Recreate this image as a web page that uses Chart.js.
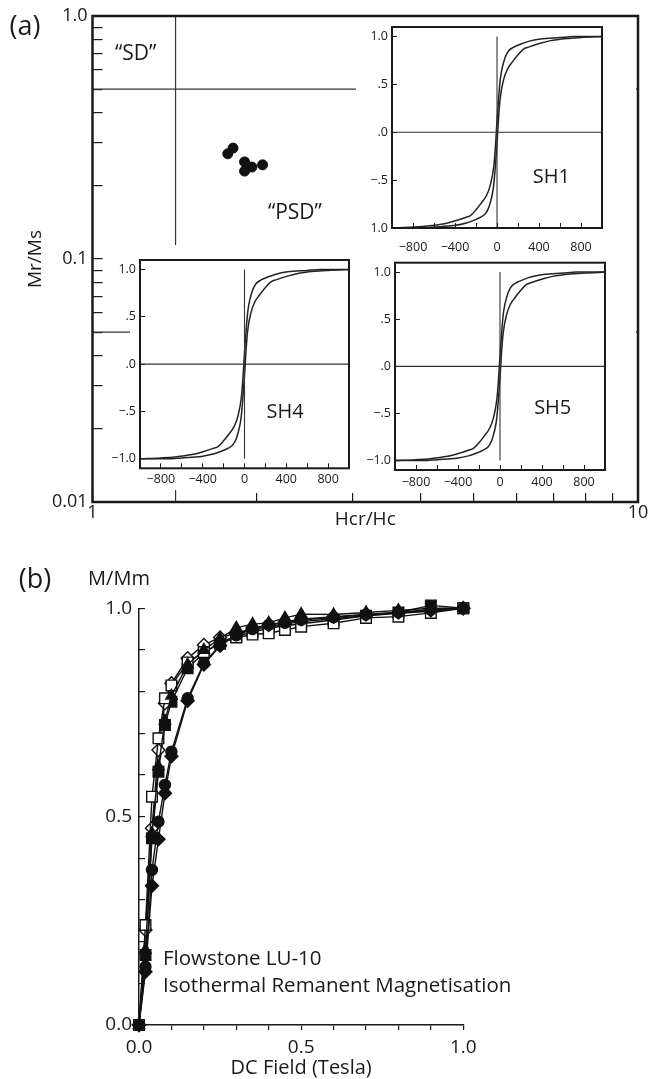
<!DOCTYPE html>
<html><head><meta charset="utf-8">
<script src="https://cdn.jsdelivr.net/npm/chart.js@4/dist/chart.umd.min.js"></script>
<style>
html,body{margin:0;padding:0;background:#fff;}
#wrap{position:relative;width:649px;height:1079px;overflow:hidden;background:#fff;}
canvas{position:absolute;display:block;}
</style></head><body><div id="wrap">
<canvas id="dayPlot" width="649" height="545" style="left:0;top:0;width:649px;height:545px"></canvas>
<canvas id="sh1" width="280" height="238" style="left:356px;top:18px;width:280px;height:238px"></canvas>
<canvas id="sh4" width="255" height="245" style="left:100px;top:245px;width:255px;height:245px"></canvas>
<canvas id="sh5" width="281" height="234" style="left:355px;top:256px;width:281px;height:234px"></canvas>
<canvas id="irm" width="649" height="534" style="left:0;top:545px;width:649px;height:534px"></canvas>
</div>
<script>
// ---------- Panel (a): Day plot data ----------
const hcrHc = [1.81, 1.77, 1.90, 1.96, 1.90, 2.05];
const mrMs  = [0.286, 0.271, 0.251, 0.239, 0.230, 0.244];
const sdLineHcrHc = [1.42, 1.42];
const sdLineMrMs  = [0.01, 1.0];
const boundaryHcrHc = [1, 10];
const sdMrMs = [0.5, 0.5];
const mdMrMs = [0.05, 0.05];
const dayXTicks = [1, 2, 3, 4, 5, 6, 7, 8, 9, 10];
const dayXLabels = {"1": "1", "10": "10"};
const dayYTicks = [0.01, 0.02, 0.03, 0.04, 0.05, 0.06, 0.07, 0.08, 0.09, 0.1, 0.2, 0.3, 0.4, 0.5, 0.6, 0.7, 0.8, 0.9, 1];
const dayYLabels = {"0.01": "0.01", "0.1": "0.1", "1": "1.0"};

// ---------- Hysteresis loops (insets) ----------
const loopUpperField = [-1000, -800, -667, -500, -412, -300, -253, -200, -143, -100, -63, -30, -15, 0, 15, 31, 45, 63, 80, 110, 160, 222, 300, 412, 600, 730, 1000];
const loopUpperM     = [-1.0, -0.99, -0.98, -0.955, -0.93, -0.89, -0.87, -0.81, -0.73, -0.66, -0.55, -0.35, -0.15, 0.12, 0.35, 0.55, 0.65, 0.73, 0.79, 0.85, 0.89, 0.92, 0.95, 0.975, 0.99, 1.0, 1.0];
const loopLowerField = [-1000, -730, -600, -412, -300, -222, -160, -110, -80, -63, -45, -31, -15, 0, 15, 30, 63, 100, 143, 200, 253, 300, 412, 500, 667, 800, 1000];
const loopLowerM     = [-1.0, -1.0, -0.99, -0.975, -0.95, -0.92, -0.89, -0.85, -0.79, -0.73, -0.65, -0.55, -0.35, -0.12, 0.15, 0.35, 0.55, 0.66, 0.73, 0.81, 0.87, 0.89, 0.93, 0.955, 0.98, 0.99, 1.0];
const insetXTicks = [-800, -600, -400, -200, 0, 200, 400, 600, 800];
const insetXLabels = {"-800": "\u2212800", "-400": "\u2212400", "0": "0", "400": "400", "800": "800"};
const insetYTicks = [-1, -0.5, 0, 0.5, 1];
const sh1YLabels = {"-1": "1.0", "-0.5": "\u2212.5", "0": ".0", "0.5": ".5", "1": "1.0"};
const shYLabels  = {"-1": "\u22121.0", "-0.5": "\u2212.5", "0": ".0", "0.5": ".5", "1": "1.0"};
const axisCrossField = [0, 0];
const axisCrossM = [-1, 1];
const axisZeroField = [-1000, 1000];
const axisZeroM = [0, 0];

// ---------- Panel (b): IRM acquisition ----------
const irmField = [0, 0.02, 0.04, 0.06, 0.08, 0.1, 0.15, 0.2, 0.25, 0.3, 0.35, 0.4, 0.45, 0.5, 0.6, 0.7, 0.8, 0.9, 1.0];
const irmOpenSquare   = [0, 0.24, 0.548, 0.688, 0.784, 0.815, 0.87, 0.895, 0.915, 0.93, 0.937, 0.94, 0.948, 0.956, 0.964, 0.977, 0.98, 0.989, 1.0];
const irmOpenDiamond  = [0, 0.228, 0.472, 0.66, 0.772, 0.82, 0.88, 0.912, 0.93, 0.94, 0.95, 0.955, 0.962, 0.968, 0.975, 0.982, 0.988, 0.993, 1.0];
const irmFilledSquare = [0, 0.168, 0.448, 0.608, 0.72, 0.776, 0.856, 0.893, 0.918, 0.933, 0.943, 0.952, 0.958, 0.963, 0.972, 0.982, 0.99, 1.007, 1.0];
const irmFilledCircle = [0, 0.14, 0.372, 0.488, 0.576, 0.656, 0.784, 0.868, 0.912, 0.935, 0.95, 0.96, 0.965, 0.972, 0.978, 0.985, 0.99, 0.997, 1.0];
const irmFilledDiamond= [0, 0.128, 0.334, 0.446, 0.556, 0.645, 0.778, 0.865, 0.91, 0.938, 0.953, 0.96, 0.968, 0.974, 0.98, 0.985, 0.99, 0.995, 1.0];
const irmFilledTriangle=[0, 0.18, 0.46, 0.62, 0.73, 0.79, 0.865, 0.9, 0.928, 0.953, 0.962, 0.965, 0.977, 0.986, 0.985, 0.99, 0.995, 1.0, 1.0];
const irmTicks = [0, 0.1, 0.2, 0.3, 0.4, 0.5, 0.6, 0.7, 0.8, 0.9, 1.0];
const irmLabels = {"0": "0.0", "0.5": "0.5", "1": "1.0"};

// ---------- helpers ----------
const FONT = "'Open Sans', 'Noto Sans', sans-serif";
const INK = '#1a1a1a';
const pts = (xs, ys) => xs.map((x, i) => ({x, y: ys[i]}));
const key = v => String(Math.round(v * 1000) / 1000);
const lab = map => (v) => { const k = key(v); return map[k] !== undefined ? map[k] : ''; };
const setTicks = arr => (scale) => { scale.ticks = arr.map(v => ({value: v})); };
const noPad = s => { s.paddingTop = 0; s.paddingBottom = 0; s.paddingLeft = 0; s.paddingRight = 0; };
const fitH = h => s => { s.height = h; noPad(s); };
const fitW = w => s => { s.width = w; noPad(s); };

function textPlugin(items) {
  return { id: 'texts', afterDraw(chart) {
    const ctx = chart.ctx;
    for (const t of items) {
      const p = t.pos(chart);
      ctx.save();
      ctx.font = t.font;
      ctx.fillStyle = INK;
      ctx.textAlign = t.align || 'center';
      ctx.textBaseline = 'middle';
      ctx.translate(p[0], p[1]);
      if (t.rot) ctx.rotate(t.rot);
      ctx.fillText(t.text, 0, 0);
      ctx.restore();
    }
  }};
}
function framePlugin(width) {
  return { id: 'frame', afterDraw(chart) {
    const a = chart.chartArea, ctx = chart.ctx;
    ctx.save(); ctx.strokeStyle = INK; ctx.lineWidth = width;
    ctx.strokeRect(a.left, a.top, a.right - a.left, a.bottom - a.top);
    ctx.restore();
  }};
}
function whitePlugin(rect) {
  return { id: 'white', beforeDraw(chart) {
    const ctx = chart.ctx; ctx.save(); ctx.fillStyle = '#fff';
    ctx.fillRect(rect[0], rect[1], rect[2], rect[3]); ctx.restore();
  }};
}
const baseOpts = {
  responsive: false, animation: false, events: [],
  plugins: { legend: { display: false }, tooltip: { enabled: false } }
};

// ---------- Day plot ----------
new Chart(document.getElementById('dayPlot'), {
  type: 'scatter',
  data: { datasets: [
    { data: pts(hcrHc, mrMs), pointRadius: 5, pointBackgroundColor: '#111', pointBorderColor: '#111', showLine: false },
    { data: pts(sdLineHcrHc, sdLineMrMs), showLine: true, pointRadius: 0, borderColor: '#333', borderWidth: 1.2 },
    { data: pts(boundaryHcrHc, sdMrMs), showLine: true, pointRadius: 0, borderColor: '#333', borderWidth: 1.2 },
    { data: pts(boundaryHcrHc, mdMrMs), showLine: true, pointRadius: 0, borderColor: '#333', borderWidth: 1.2 }
  ]},
  options: Object.assign({}, baseOpts, {
    layout: { padding: { left: 0, top: 16, right: 11, bottom: 0 } },
    scales: {
      x: { type: 'logarithmic', min: 1, max: 10, afterBuildTicks: setTicks(dayXTicks),
           afterFit: fitH(43),
           border: { display: false },
           grid: { drawOnChartArea: false, drawTicks: true, tickLength: -9, color: INK, lineWidth: 1.2 },
           ticks: { autoSkip: false, maxRotation: 0, padding: 9, color: INK, font: { family: FONT, size: 18 }, callback: lab(dayXLabels) } },
      y: { type: 'logarithmic', min: 0.01, max: 1, afterBuildTicks: setTicks(dayYTicks),
           afterFit: fitW(92.5),
           border: { display: false },
           grid: { drawOnChartArea: false, drawTicks: true, tickLength: -10, color: INK, lineWidth: 1.2 },
           ticks: { autoSkip: false, padding: 15, color: INK, font: { family: FONT, size: 18 }, callback: lab(dayYLabels) } }
    }
  }),
  plugins: [framePlugin(2.5), textPlugin([
    { text: '(a)', font: `27px ${FONT}`, pos: () => [25, 27] },
    { text: 'Mr/Ms', font: `19px ${FONT}`, rot: -Math.PI / 2, pos: c => [36, (c.chartArea.top + c.chartArea.bottom) / 2] },
    { text: 'Hcr/Hc', font: `19px ${FONT}`, pos: c => [(c.chartArea.left + c.chartArea.right) / 2, 520] },
    { text: '\u201CSD\u201D', font: `21px ${FONT}`, pos: c => [c.scales.x.getPixelForValue(1.2), c.scales.y.getPixelForValue(0.70)] },
    { text: '\u201CPSD\u201D', font: `21px ${FONT}`, pos: c => [c.scales.x.getPixelForValue(2.35), c.scales.y.getPixelForValue(0.155)] }
  ])]
});

// ---------- Insets ----------
function makeInset(id, cfg) {
  new Chart(document.getElementById(id), {
    type: 'scatter',
    data: { datasets: [
      { data: pts(axisCrossField, axisCrossM), showLine: true, pointRadius: 0, borderColor: '#333', borderWidth: 1.1 },
      { data: pts(axisZeroField, axisZeroM), showLine: true, pointRadius: 0, borderColor: '#333', borderWidth: 1.1 },
      { data: pts(loopUpperField, loopUpperM), showLine: true, pointRadius: 0, borderColor: '#222', borderWidth: 1.5, cubicInterpolationMode: 'monotone' },
      { data: pts(loopLowerField, loopLowerM), showLine: true, pointRadius: 0, borderColor: '#222', borderWidth: 1.5, cubicInterpolationMode: 'monotone' }
    ]},
    options: Object.assign({}, baseOpts, {
      layout: { padding: { left: 0, top: cfg.padTop, right: cfg.padRight, bottom: 0 } },
      scales: {
        x: { type: 'linear', min: -1000, max: 1000, afterBuildTicks: setTicks(insetXTicks),
             afterFit: fitH(cfg.xH),
             border: { display: false },
             grid: { drawOnChartArea: false, drawTicks: true, tickLength: -5, color: INK, lineWidth: 1 },
             ticks: { autoSkip: false, maxRotation: 0, padding: cfg.xPad, color: INK, font: { family: FONT, size: 12.5 }, callback: lab(insetXLabels) } },
        y: { type: 'linear', min: cfg.yMin, max: cfg.yMax, afterBuildTicks: setTicks(insetYTicks),
             afterFit: fitW(cfg.yW),
             border: { display: false },
             grid: { drawOnChartArea: false, drawTicks: true, tickLength: -5, color: INK, lineWidth: 1 },
             ticks: { autoSkip: false, padding: 9, color: INK, font: { family: FONT, size: 12.5 }, callback: lab(cfg.yLabels) } }
      }
    }),
    plugins: [whitePlugin(cfg.white), framePlugin(2), textPlugin([
      { text: cfg.name, font: `20px ${FONT}`, pos: c => [c.scales.x.getPixelForValue(cfg.nameAt[0]), c.scales.y.getPixelForValue(cfg.nameAt[1])] }
    ])]
  });
}
makeInset('sh1', { padTop: 9, padRight: 34, xH: 28, yW: 36, xPad: 17, yMin: -1.0, yMax: 1.1, yLabels: sh1YLabels, white: [0, 0, 280, 238], name: 'SH1', nameAt: [517, -0.47] });
makeInset('sh4', { padTop: 15, padRight: 6, xH: 21.7, yW: 40, xPad: 9, yMin: -1.1, yMax: 1.1, yLabels: shYLabels, white: [30, 0, 225, 245], name: 'SH4', nameAt: [388, -0.51] });
makeInset('sh5', { padTop: 6.7, padRight: 31, xH: 20, yW: 40, xPad: 10, yMin: -1.1, yMax: 1.1, yLabels: shYLabels, white: [0, 0, 281, 234], name: 'SH5', nameAt: [502, -0.45] });

// ---------- IRM ----------
const lineStyle = { showLine: true, borderColor: '#111', borderWidth: 1.4, pointBorderColor: '#111', pointBorderWidth: 1.4, clip: false };
new Chart(document.getElementById('irm'), {
  type: 'scatter',
  data: { datasets: [
    Object.assign({ data: pts(irmField, irmFilledCircle), pointStyle: 'circle', pointRadius: 5.5, pointBackgroundColor: '#111' }, lineStyle),
    Object.assign({ data: pts(irmField, irmFilledDiamond), pointStyle: 'rectRot', pointRadius: 6.5, pointBackgroundColor: '#111' }, lineStyle),
    Object.assign({ data: pts(irmField, irmFilledTriangle), pointStyle: 'triangle', pointRadius: 6.5, pointBackgroundColor: '#111' }, lineStyle),
    Object.assign({ data: pts(irmField, irmOpenSquare), pointStyle: 'rect', pointRadius: 7.5, pointBackgroundColor: '#fff' }, lineStyle),
    Object.assign({ data: pts(irmField, irmOpenDiamond), pointStyle: 'rectRot', pointRadius: 6.5, pointBackgroundColor: '#fff' }, lineStyle),
    Object.assign({ data: pts(irmField, irmFilledSquare), pointStyle: 'rect', pointRadius: 7.5, pointBackgroundColor: '#111' }, lineStyle)
  ]},
  options: Object.assign({}, baseOpts, {
    layout: { padding: { left: 0, top: 63.3, right: 185.7, bottom: 0 } },
    scales: {
      x: { type: 'linear', min: 0, max: 1, afterBuildTicks: setTicks(irmTicks),
           afterFit: fitH(54),
           border: { display: true, color: INK, width: 1.5 },
           grid: { drawOnChartArea: false, drawTicks: true, tickLength: 5, color: INK, lineWidth: 1.2 },
           ticks: { autoSkip: false, maxRotation: 0, padding: 6, color: INK, font: { family: FONT, size: 19 }, callback: lab(irmLabels) } },
      y: { type: 'linear', min: 0, max: 1, afterBuildTicks: setTicks(irmTicks),
           afterFit: fitW(139),
           border: { display: true, color: INK, width: 1.5 },
           grid: { drawOnChartArea: false, drawTicks: true, tickLength: -6, color: INK, lineWidth: 1.2 },
           ticks: { autoSkip: false, padding: 13, color: INK, font: { family: FONT, size: 19 }, callback: lab(irmLabels) } }
    }
  }),
  plugins: [textPlugin([
    { text: '(b)', font: `27px ${FONT}`, pos: () => [35, 35] },
    { text: 'M/Mm', font: `20px ${FONT}`, pos: () => [119, 34] },
    { text: 'DC Field (Tesla)', font: `20px ${FONT}`, pos: c => [(c.chartArea.left + c.chartArea.right) / 2, 523] },
    { text: 'Flowstone LU-10', font: `20.5px ${FONT}`, align: 'left', pos: () => [163, 414] },
    { text: 'Isothermal Remanent Magnetisation', font: `20.5px ${FONT}`, align: 'left', pos: () => [163, 441] }
  ])]
});
</script>
</body></html>
